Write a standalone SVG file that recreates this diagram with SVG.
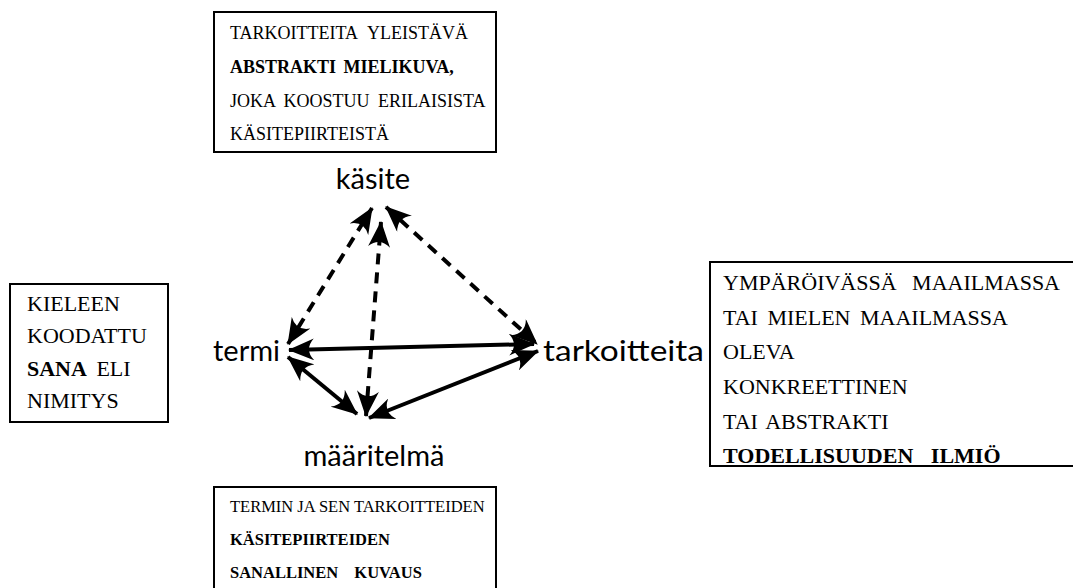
<svg xmlns="http://www.w3.org/2000/svg" width="1073" height="588" viewBox="0 0 1073 588">
<style>
.box{fill:#fff;stroke:#000;stroke-width:2}
.t{font-family:"Liberation Serif","Times New Roman",serif;font-size:18px;fill:#000}
.tl{font-size:22px}
.tr{font-size:22px}
.tb{font-size:16.5px}
.b{font-weight:bold}
.lbl{font-family:Lato,"Open Sans",sans-serif;font-size:29px;fill:#000}
.sol{stroke:#000;stroke-width:4;fill:none;marker-start:url(#ah);marker-end:url(#ah)}
.dash{stroke:#000;stroke-width:4;fill:none;stroke-dasharray:11 8;marker-start:url(#ah);marker-end:url(#ah)}
</style>
<defs>
<marker id="ah" markerUnits="userSpaceOnUse" viewBox="0 0 26 22" markerWidth="26" markerHeight="22" refX="25" refY="11" orient="auto-start-reverse">
<path d="M26,11 L0,0 Q10,11 0,22 Z" fill="#000"/>
</marker>
</defs>
<g id="box-kasite">
<rect class="box" x="214" y="12" width="282" height="140"/>
<text class="t" x="230" y="39" word-spacing="6">TARKOITTEITA YLEISTÄVÄ</text>
<text class="t b" x="230" y="73" word-spacing="3">ABSTRAKTI MIELIKUVA,</text>
<text class="t" x="230" y="107" word-spacing="4">JOKA KOOSTUU ERILAISISTA</text>
<text class="t" x="230" y="140">KÄSITEPIIRTEISTÄ</text>
</g>
<g id="box-termi">
<rect class="box" x="10" y="284" width="158" height="138"/>
<text class="t tl" x="27" y="311">KIELEEN</text>
<text class="t tl" x="27" y="343">KOODATTU</text>
<text class="t tl" x="27" y="376" word-spacing="4"><tspan class="b">SANA</tspan> ELI</text>
<text class="t tl" x="27" y="408">NIMITYS</text>
</g>
<g id="box-tarkoitteita">
<rect class="box" x="710" y="262" width="380" height="204"/>
<text class="t tr" x="723" y="290" word-spacing="10">YMPÄRÖIVÄSSÄ MAAILMASSA</text>
<text class="t tr" x="723" y="325" word-spacing="4">TAI MIELEN MAAILMASSA</text>
<text class="t tr" x="723" y="359">OLEVA</text>
<text class="t tr" x="723" y="394">KONKREETTINEN</text>
<text class="t tr" x="723" y="429" word-spacing="3">TAI ABSTRAKTI</text>
<text class="t tr b" x="723" y="463" word-spacing="12">TODELLISUUDEN ILMIÖ</text>
</g>
<g id="box-maaritelma">
<rect class="box" x="214" y="487" width="282" height="110"/>
<text class="t tb" x="230" y="512">TERMIN JA SEN TARKOITTEIDEN</text>
<text class="t tb b" x="230" y="545">KÄSITEPIIRTEIDEN</text>
<text class="t tb b" x="230" y="578" word-spacing="12">SANALLINEN KUVAUS</text>
</g>
<g id="node-kasite"><text class="lbl" x="373" y="189" text-anchor="middle">käsite</text></g>
<g id="node-termi"><text class="lbl" x="213" y="361">termi</text></g>
<g id="node-tarkoitteita"><text class="lbl" x="543" y="361" textLength="161" lengthAdjust="spacingAndGlyphs">tarkoitteita</text></g>
<g id="node-maaritelma"><text class="lbl" x="374" y="466" text-anchor="middle">määritelmä</text></g>
<g id="connectors">
<line class="dash" x1="288" y1="344" x2="372" y2="208"/>
<line class="dash" x1="386" y1="207" x2="537" y2="344"/>
<line class="dash" x1="366" y1="416" x2="381" y2="222"/>
<line class="sol" x1="289" y1="350" x2="534" y2="344"/>
<line class="sol" x1="288" y1="357" x2="357" y2="414"/>
<line class="sol" x1="369" y1="418" x2="538" y2="351"/>
</g>
</svg>
